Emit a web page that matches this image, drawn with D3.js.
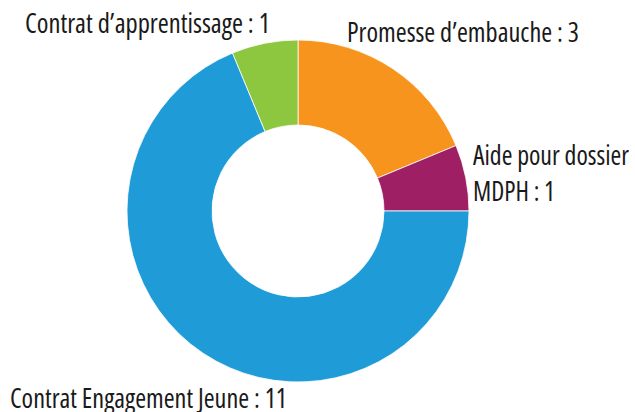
<!DOCTYPE html>
<html><head><meta charset="utf-8">
<script src="https://cdn.jsdelivr.net/npm/d3@7"></script>
<style>
html,body{margin:0;padding:0;background:#fff;}
text{font-family:"Open Sans","Liberation Sans Narrow",sans-serif;font-stretch:75%;fill:#1a1a1a;}
</style></head>
<body>
<svg id="c" width="635" height="412"></svg>
<script>
const categories = ["Promesse d’embauche", "Aide pour dossier MDPH", "Contrat Engagement Jeune", "Contrat d’apprentissage"];
const values = [3, 1, 11, 1];
const colors = ["#F7941D", "#9E1F63", "#1F9BD7", "#8DC63F"];
const labelLines = [
  ["Promesse d’embauche : 3"],
  ["Aide pour dossier", "MDPH : 1"],
  ["Contrat Engagement Jeune : 11"],
  ["Contrat d’apprentissage : 1"]
];

const svg = d3.select("#c");
const cx = 298, cy = 211, R = 171, r = 86;
const g = svg.append("g").attr("transform", `translate(${cx},${cy})`);

const data = categories.map((c, i) => ({ name: c, value: values[i], i }));
const pie = d3.pie().value(d => d.value).sort(null).startAngle(0).endAngle(2 * Math.PI);
const arc = d3.arc().innerRadius(r).outerRadius(R);

g.selectAll("path").data(pie(data)).join("path")
  .attr("d", arc)
  .attr("fill", d => colors[d.data.i])
  .attr("stroke", "#fff").attr("stroke-width", 0.8);

// label layout (positions relative to page)
const labelPos = [
  { x: 347, y: 42, w: [232] },
  { x: 473, y: 165, w: [156, 82] },
  { x: 10, y: 407.5, w: [277] },
  { x: 25, y: 33, w: [245] }
];
const fs = 26.5, lh = 36;
labelLines.forEach((lines, i) => {
  const p = labelPos[i];
  lines.forEach((t, j) => {
    svg.append("text")
      .attr("x", p.x).attr("y", p.y + j * lh)
      .attr("font-size", fs)
      .attr("textLength", p.w[j])
      .attr("lengthAdjust", "spacingAndGlyphs")
      .text(t);
  });
});
</script>
</body></html>
